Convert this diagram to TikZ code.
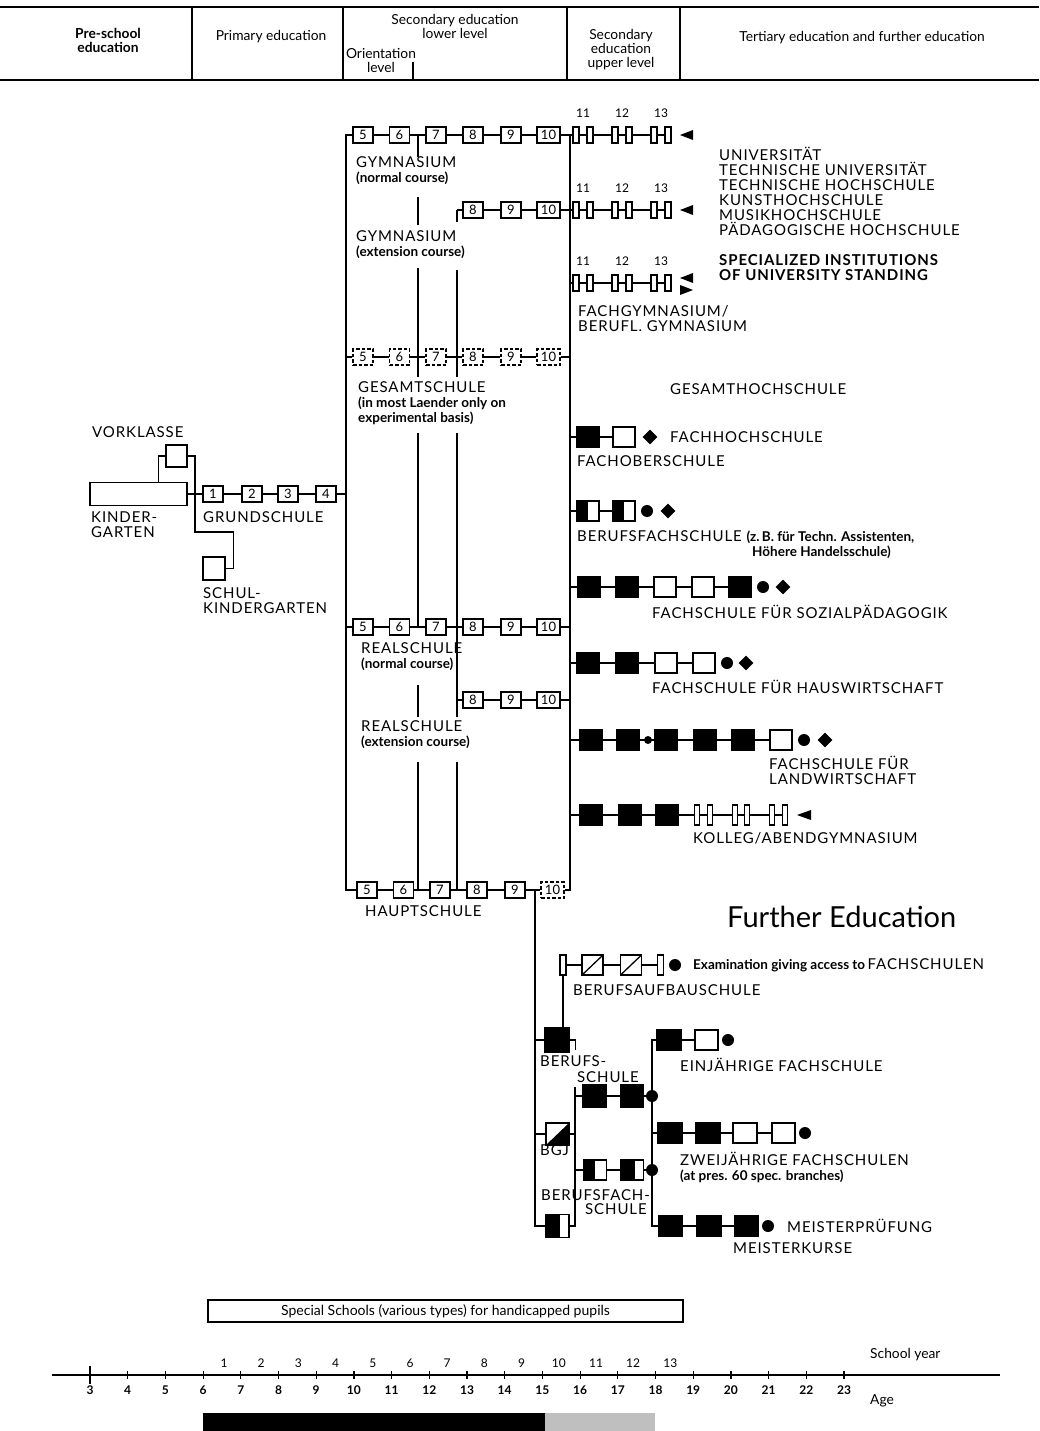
\documentclass[tikz,border=0pt]{standalone}
\usepackage{fontspec}
\setmainfont{Lato}
\newfontfamily\capf[LetterSpace=6]{Lato}
\usetikzlibrary{shapes.geometric}
\newcommand{\capsz}{\capf\fontsize{15}{15}\selectfont}
\newcommand{\lowb}{\rmfamily\fontsize{13.5}{15}\selectfont\bfseries}
\newcommand{\lows}{\rmfamily\fontsize{13.5}{15}\selectfont\bfseries}
\newcommand{\hdf}{\rmfamily\fontsize{13.8}{14}\selectfont}
\newcommand{\numf}{\rmfamily\fontsize{13}{13}\selectfont}
\newcommand{\labf}{\rmfamily\fontsize{12}{12}\selectfont}
\tikzset{
  cn/.style={line width=1.3pt},
  yr/.style={draw, line width=1.4pt, fill=white, minimum width=20pt, minimum height=16pt, inner sep=0pt, font=\numf},
  yrw/.style={yr, minimum width=23pt},
  yrd/.style={dash pattern=on 3.5pt off 2pt},
  nb/.style={draw, line width=1.3pt, fill=white, minimum width=6pt, minimum height=16pt, inner sep=0pt},
  fb/.style={draw, line width=1.3pt, fill=black, minimum width=22pt, minimum height=20pt, inner sep=0pt},
  wb/.style={fb, fill=white},
  hb/.style={wb, path picture={\fill[black] (path picture bounding box.south west) rectangle ([xshift=#1]path picture bounding box.north);}},
  hb/.default=0pt,
  db/.style={wb, path picture={\draw[line width=1.3pt] (path picture bounding box.south west) -- (path picture bounding box.north east);}},
  tb/.style={wb, path picture={\fill[black] (path picture bounding box.south west) -- (path picture bounding box.south east) -- (path picture bounding box.north east) -- cycle;}},
  fdot/.style={circle, fill=black, minimum size=12pt, inner sep=0pt},
  dia/.style={diamond, fill=black, minimum width=15pt, minimum height=15pt, inner sep=0pt},
  lbl/.style={anchor=west, inner sep=0pt, align=left, font=\capsz},
  hd/.style={align=center, inner sep=0pt, font=\hdf},
  yl/.style={inner sep=0pt, font=\labf},
}
\begin{document}
\begin{tikzpicture}[x=1pt,y=-1pt]
\fill[white] (0,0) rectangle (1039,1431);
\useasboundingbox (0,0) rectangle (1039,1431);

% ---------------- header
\draw[line width=2.5pt] (0,7) -- (1039,7);
\draw[line width=2.5pt] (0,80) -- (1039,80);
\foreach \x in {192,343,567,680} \draw[cn] (\x,7) -- (\x,80);
\draw[cn] (413,62) -- (413,80);
\node[hd, font={\hdf\bfseries}] (hps) at (108,40) {Pre-school\\education};
\node[hd] (hpr) at (271,37) {Primary education};
\node[hd] (hsl) at (455,26) {Secondary education\\lower level};
\node[hd] (hor) at (381,60) {Orientation\\level};
\node[hd] (hsu) at (621,50) {Secondary\\education\\upper level};
\node[hd] (hte) at (862,38) {Tertiary education and further education};

% ---------------- pre-school and primary
\node[draw, line width=1.5pt, minimum width=97pt, minimum height=23pt, inner sep=0pt] (kg) at (138.5,494) {};
\node[yr, minimum width=21pt, minimum height=22pt] (vk) at (176.5,456) {};
\node[yr, minimum width=22pt, minimum height=23pt] (sk) at (214,568.5) {};
\foreach \n/\x in {1/213,2/252,3/288,4/326} \node[yr] (p\n) at (\x,494) {\n};
\draw[cn] (kg.east) -- (p1.west);
\draw[cn] (p1.east) -- (p2.west);
\draw[cn] (p2.east) -- (p3.west);
\draw[cn] (p3.east) -- (p4.west);
\coordinate (Lp) at (346,494);
\draw[cn] (p4.east) -- (Lp);
\draw[cn] ([xshift=20pt]kg.north) |- (vk.west);
\coordinate (jv) at (195,532);
\draw[cn] (vk.east) -| (jv) -| ([xshift=8pt]sk.east) -- (sk.east);
\node[lbl] (tvk) at (92,432) {VORKLASSE};
\node[lbl] (tkg) at (91,525) {KINDER-\\GARTEN};
\node[lbl] (tgr) at (203,517) {GRUNDSCHULE};
\node[lbl] (tsk) at (203,601) {SCHUL-\\KINDERGARTEN};

% ---------------- secondary lower level
\foreach \n/\x in {5/363,6/399.5,7/436,8/473,9/511} {
  \node[yr] (g\n) at (\x,135) {\n};
  \node[yr,yrd] (s\n) at (\x,357) {\n};
  \node[yr] (r\n) at (\x,627) {\n};
}
\node[yrw] (g10) at (548.5,135) {10};
\node[yrw,yrd] (s10) at (548.5,357) {10};
\node[yrw] (r10) at (548.5,627) {10};
\foreach \n/\x in {8/473,9/511} {
  \node[yr] (ge\n) at (\x,210) {\n};
  \node[yr] (re\n) at (\x,700) {\n};
}
\node[yrw] (ge10) at (548.5,210) {10};
\node[yrw] (re10) at (548.5,700) {10};
\foreach \n/\x in {5/367,6/403.5,7/440,8/477,9/515} \node[yr] (h\n) at (\x,890) {\n};
\node[yrw,yrd] (h10) at (552.5,890) {10};

\foreach \a/\b in {5/6,6/7,7/8,8/9,9/10} {
  \draw[cn] (g\a.east) -- (g\b.west);
  \draw[cn] (s\a.east) -- (s\b.west);
  \draw[cn] (r\a.east) -- (r\b.west);
  \draw[cn] (h\a.east) -- (h\b.west);
}
\foreach \a/\b in {8/9,9/10} {
  \draw[cn] (ge\a.east) -- (ge\b.west);
  \draw[cn] (re\a.east) -- (re\b.west);
}
\coordinate (Lt) at (346,135); \coordinate (Lb) at (346,890);
\coordinate (Rt) at (570,135); \coordinate (Rb) at (570,890);
\draw[cn] (g5.west) -- (Lt) -- (Lb) -- (h5.west);
\draw[cn] (Rt) -- (Rb) -- (h10.east);
\draw[cn] (s5.west) -- (s5.west -| Lt);
\draw[cn] (r5.west) -- (r5.west -| Lt);
\draw[cn] (s10.east) -- (s10.east -| Rt);
\draw[cn] (r10.east) -- (r10.east -| Rt);
\draw[cn] (re10.east) -- (re10.east -| Rt);
% transfer lines
\foreach \ya/\yb in {135/157,197/225,268/377,433/627,685/717,762/890} \draw[cn] (418,\ya) -- (418,\yb);
\foreach \ya/\yb in {210/222,270/377,433/717,762/890} \draw[cn] (457,\ya) -- (457,\yb);
\draw[cn] (ge8.west) -- (457,210);
\draw[cn] (re8.west) -- (457,700);

\node[lbl] (tgn) at (356,171) {GYMNASIUM\\\lowb (normal course)};
\node[lbl] (tge) at (356,245) {GYMNASIUM\\\lowb (extension course)};
\node[lbl] (tgs) at (358,403) {GESAMTSCHULE\\\lowb (in most Laender only on\\\lowb experimental basis)};
\node[lbl] (trn) at (361,657) {REALSCHULE\\\lowb (normal course)};
\node[lbl] (tre) at (361,735) {REALSCHULE\\\lowb (extension course)};
\node[lbl] (thp) at (365,911) {HAUPTSCHULE};

% ---------------- upper level (Gymnasium)
\foreach \rw/\y in {a/135,b/210,c/283} {
  \foreach \i/\x in {1/576,2/590,3/615,4/629,5/654,6/668} \node[nb] (u\rw\i) at (\x,\y) {};
  \foreach \i [count=\j from 2] in {1,...,5} \draw[cn] (u\rw\i.east) -- (u\rw\j.west);
  \foreach \t/\x in {11/583,12/622,13/661} \node[yl] (yl\rw\t) at (\x,\y-22) {\t};
}
\draw[cn] (g10.east) -- (ua1.west);
\draw[cn] (ge10.east) -- (ub1.west);
\draw[cn] (uc1.west -| Rt) -- (uc1.west);
\fill (680,135) -- (693,130) -- (693,140) -- cycle;
\fill (680,210) -- (693,205) -- (693,215) -- cycle;
\fill (680,278) -- (693,273) -- (693,283) -- cycle;
\fill (693,290) -- (680,285) -- (680,295) -- cycle;

\node[lbl] (tuni) at (719,191) {UNIVERSITÄT\\TECHNISCHE UNIVERSITÄT\\TECHNISCHE HOCHSCHULE\\KUNSTHOCHSCHULE\\MUSIKHOCHSCHULE\\PÄDAGOGISCHE HOCHSCHULE};
\node[lbl, font={\capsz\bfseries}] (tspec) at (719,268) {SPECIALIZED INSTITUTIONS\\OF UNIVERSITY STANDING};
\node[lbl] (tfg) at (578,319) {FACHGYMNASIUM/\\BERUFL. GYMNASIUM};
\node[lbl] (tghs) at (670,389) {GESAMTHOCHSCHULE};

% ---------------- Fachoberschule
\node[fb] (fo1) at (588,437) {};
\node[wb] (fo2) at (624,437) {};
\node[dia] (fo3) at (650,437) {};
\draw[cn] (fo1.west -| Rt) -- (fo1.west);
\draw[cn] (fo1.east) -- (fo2.west);
\node[lbl] (tfh) at (670,437) {FACHHOCHSCHULE};
\node[lbl] (tfo) at (577,461) {FACHOBERSCHULE};

% ---------------- Berufsfachschule
\node[hb] (bf1) at (588,511) {};
\node[hb] (bf2) at (624,511) {};
\node[fdot] (bf3) at (647,511) {};
\node[dia] (bf4) at (668,511) {};
\draw[cn] (bf1.west -| Rt) -- (bf1.west);
\draw[cn] (bf1.east) -- (bf2.west);
\node[lbl] (tbf) at (577,537) {BERUFSFACHSCHULE {\lows (z.\,B. für Techn. Assistenten,}};
\node[anchor=west, inner sep=0pt, font=\lows] (thh) at (752,552) {Höhere Handelsschule)};

% ---------------- Sozialpaedagogik
\node[fb] (sp1) at (589,587) {};
\node[fb] (sp2) at (627,587) {};
\node[wb] (sp3) at (665,587) {};
\node[wb] (sp4) at (703,587) {};
\node[fb] (sp5) at (740,587) {};
\node[fdot] (sp6) at (763,587) {};
\node[dia] (sp7) at (783,587) {};
\draw[cn] (sp1.west -| Rt) -- (sp1.west);
\foreach \a/\b in {1/2,2/3,3/4,4/5} \draw[cn] (sp\a.east) -- (sp\b.west);
\node[lbl] (tsp) at (652,612) {FACHSCHULE FÜR SOZIALPÄDAGOGIK};

% ---------------- Hauswirtschaft
\node[fb] (hw1) at (588,663) {};
\node[fb] (hw2) at (627,663) {};
\node[wb] (hw3) at (666,663) {};
\node[wb] (hw4) at (704,663) {};
\node[fdot] (hw5) at (727,663) {};
\node[dia] (hw6) at (746,663) {};
\draw[cn] (hw1.west -| Rt) -- (hw1.west);
\foreach \a/\b in {1/2,2/3,3/4} \draw[cn] (hw\a.east) -- (hw\b.west);
\node[lbl] (thw) at (652,687) {FACHSCHULE FÜR HAUSWIRTSCHAFT};

% ---------------- Landwirtschaft
\node[fb] (lw1) at (591,740) {};
\node[fb] (lw2) at (628,740) {};
\node[fdot, minimum size=8pt] (lwd) at (648,740) {};
\node[fb] (lw3) at (666,740) {};
\node[fb] (lw4) at (705,740) {};
\node[fb] (lw5) at (743,740) {};
\node[wb] (lw6) at (781,740) {};
\node[fdot] (lw7) at (804,740) {};
\node[dia] (lw8) at (825,740) {};
\draw[cn] (lw1.west -| Rt) -- (lw1.west);
\draw[cn] (lw1.east) -- (lw2.west);
\draw[cn] (lw2.east) -- (lw3.west);
\foreach \a/\b in {3/4,4/5,5/6} \draw[cn] (lw\a.east) -- (lw\b.west);
\node[lbl] (tlw) at (769,770) {FACHSCHULE FÜR\\LANDWIRTSCHAFT};

% ---------------- Kolleg
\node[fb] (ko1) at (591,815) {};
\node[fb] (ko2) at (630,815) {};
\node[fb] (ko3) at (667,815) {};
\foreach \i/\x in {4/697,5/710,6/735,7/747,8/772,9/785} \node[nb, minimum width=5pt, minimum height=20pt] (ko\i) at (\x,815) {};
\draw[cn] (ko1.west -| Rt) -- (ko1.west);
\foreach \a/\b in {1/2,2/3,3/4,4/5,5/6,6/7,7/8,8/9} \draw[cn] (ko\a.east) -- (ko\b.west);
\fill (797,815) -- (811,810) -- (811,820) -- cycle;
\node[lbl] (tko) at (693,838) {KOLLEG/ABENDGYMNASIUM};

% ---------------- Further education
\node[anchor=west, inner sep=0pt, font=\rmfamily\fontsize{29}{32}\selectfont] (tfe) at (727,917) {Further Education};

\node[nb, minimum height=20pt] (ba1) at (563,965) {};
\node[db, minimum width=21pt] (ba2) at (592.5,965) {};
\node[db, minimum width=21pt] (ba3) at (631,965) {};
\node[nb, minimum height=20pt] (ba4) at (660.5,965) {};
\node[fdot] (ba5) at (675,965) {};
\foreach \a/\b in {1/2,2/3,3/4} \draw[cn] (ba\a.east) -- (ba\b.west);
\node[anchor=west, inner sep=0pt] (tex) at (693,965) {{\lows Examination giving access to} {\capsz FACHSCHULEN}};
\node[lbl] (tbas) at (573,990) {BERUFSAUFBAUSCHULE};

\node[fb, minimum width=24pt, minimum height=24pt] (bs) at (557,1040) {};
\node[tb, minimum width=23pt, minimum height=22pt] (bg) at (557.5,1134) {};
\node[hb=2pt, minimum width=23pt, minimum height=23pt] (bb) at (557.5,1226) {};
\coordinate (Fd) at (535,890); \coordinate (Fb) at (535,1226);
\draw[cn] (Fd) -- (Fb) -- (bb.west);
\draw[cn] (bs.west -| Fd) -- (bs.west);
\draw[cn] (bg.west -| Fd) -- (bg.west);
\draw[cn] (ba1.south) -- (ba1.south |- bs.north);
\draw[cn] (bs.east) -- ++(6,0) -- ++(0,10);

\coordinate (V2t) at (575,1087); \coordinate (V2b) at (575,1226);
\draw[cn] (V2t) -- (V2b) -- (bb.east);
\node[fb, minimum width=23pt, minimum height=22pt] (sc1) at (594.5,1096) {};
\node[fb, minimum width=23pt, minimum height=22pt] (sc2) at (632,1096) {};
\node[fdot] (sc3) at (652,1096) {};
\draw[cn] (sc1.west -| V2t) -- (sc1.west);
\draw[cn] (sc1.east) -- (sc2.west);
\draw[cn] (bg.east) -- (bg.east -| V2t);
\node[hb, minimum width=23pt] (fa1) at (595,1170) {};
\node[hb=3pt, minimum width=23pt] (fa2) at (632,1170) {};
\node[fdot] (fa3) at (652,1170) {};
\draw[cn] (fa1.west -| V2t) -- (fa1.west);
\draw[cn] (fa1.east) -- (fa2.west);
\draw[cn] (fa2.east) -- (fa3);

\node[fb, minimum width=24pt] (ej1) at (669,1040) {};
\node[wb, minimum width=23pt] (ej2) at (706.5,1040) {};
\node[fdot] (ej3) at (728,1040) {};
\draw[cn] (ej1.east) -- (ej2.west);
\node[fb, minimum width=24pt] (zw1) at (670,1133) {};
\node[fb, minimum width=24pt] (zw2) at (708,1133) {};
\node[wb, minimum width=24pt] (zw3) at (745,1133) {};
\node[wb, minimum width=23pt] (zw4) at (783.5,1133) {};
\node[fdot] (zw5) at (805,1133) {};
\foreach \a/\b in {1/2,2/3,3/4} \draw[cn] (zw\a.east) -- (zw\b.west);
\node[fb, minimum width=24pt] (mk1) at (670.5,1226) {};
\node[fb, minimum width=24pt] (mk2) at (709,1226) {};
\node[fb, minimum width=24pt] (mk3) at (746.5,1226) {};
\node[fdot] (mk4) at (768,1226) {};
\foreach \a/\b in {1/2,2/3} \draw[cn] (mk\a.east) -- (mk\b.west);
\coordinate (V3t) at (652,1040); \coordinate (V3b) at (652,1226);
\draw[cn] (ej1.west) -- (V3t) -- (V3b) -- (mk1.west);
\draw[cn] (zw1.west -| V3t) -- (zw1.west);
\draw[cn] (sc2.east) -- (sc3);

\node[lbl] (tbs1) at (540,1061) {BERUFS-};
\node[lbl] (tbs2) at (577,1077) {SCHULE};
\node[lbl] (tej) at (680,1065) {EINJÄHRIGE FACHSCHULE};
\node[lbl] (tbgj) at (540,1150) {BGJ};
\node[lbl] (tzw) at (680,1167) {ZWEIJÄHRIGE FACHSCHULEN\\\lows (at pres. 60 spec. branches)};
\node[lbl] (tbf1) at (541,1195) {BERUFSFACH-};
\node[lbl] (tbf2) at (585,1209) {SCHULE};
\node[lbl] (tmp) at (787,1226) {MEISTERPRÜFUNG};
\node[lbl] (tmk) at (733,1248) {MEISTERKURSE};

% ---------------- bottom
\node[draw, line width=1.4pt, minimum width=475pt, minimum height=22pt, inner sep=0pt, font=\rmfamily\fontsize{14}{16}\selectfont] (ss) at (445.5,1311) {Special Schools (various types) for handicapped pupils};
\coordinate (ax0) at (52,1375); \coordinate (ax1) at (870,1375); \coordinate (ax2) at (1000,1375);
\draw[line width=1.8pt] (ax0) -- (ax1);
\draw[line width=2.6pt] (ax1) -- (ax2);
\foreach \a in {3,...,23} {
  \draw[line width=1.2pt] ({90+(\a-3)*37.7},1371) -- ++(0,8);
  \node[yl, font={\labf\bfseries}] (ag\a) at ({90+(\a-3)*37.7},1390) {\a};
}
\draw[line width=1.8pt] (90,1366) -- (90,1384);
\foreach \n in {1,...,13} \node[yl] (sy\n) at ({186.8+37.2*\n},1363) {\n};
\node[anchor=west, inner sep=0pt, font=\hdf] (tsy) at (870,1355) {School year};
\node[anchor=west, inner sep=0pt, font=\hdf] (tage) at (870,1401) {Age};
\fill[black] (203,1413) rectangle (545,1431);
\fill[black!25] (545,1413) rectangle (655,1431);
\end{tikzpicture}
\end{document}
